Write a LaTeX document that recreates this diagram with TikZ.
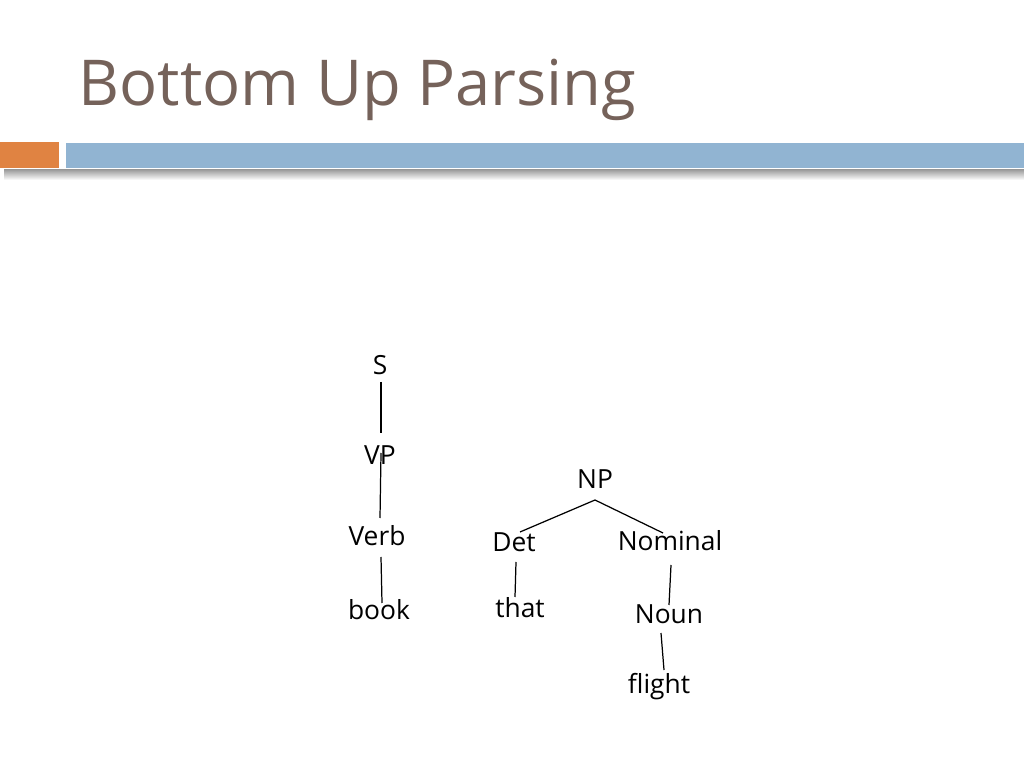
\documentclass[tikz,border=0pt]{standalone}
\usepackage{fontspec}
\setmainfont{Open Sans}
\usetikzlibrary{calc}
\definecolor{titlebrown}{RGB}{117,98,90}
\definecolor{barorange}{RGB}{224,131,66}
\definecolor{barblue}{RGB}{145,180,210}
\tikzset{
  word/.style={anchor=base,inner sep=0pt,font=\fontsize{7.5pt}{9pt}\selectfont},
  branch/.style={line width=0.35pt,black}
}
\begin{document}
\begin{tikzpicture}[x=0.1mm,y=-0.1mm]
            \useasboundingbox (0,0) rectangle (1024,768);
            % title and bars
            \node[anchor=base west,inner sep=0pt,text=titlebrown,font=\fontsize{18pt}{21pt}\selectfont] (title) at (78,106) {Bottom Up Parsing};
            \shade[top color=gray!75,bottom color=white] (4,170) rectangle (1024,180);
            \fill[barorange] (0,142) rectangle (59,168);
            \fill[barblue] (66,143) rectangle (1024,168);
            % left tree
            \node[word] (S) at (380,375) {S};
            \node[word] (VP) at (380,465) {VP};
            \node[word] (Verb) at (377,546) {Verb};
            \node[word] (book) at (379,619) {book};
            % right tree
            \node[word] (NP) at (595,489) {NP};
            \node[word] (Det) at (514,552) {Det};
            \node[word] (Nominal) at (670,551) {Nominal};
            \node[word] (that) at (520,618) {that};
            \node[word] (Noun) at (669,623) {Noun};
            \node[word] (flight) at (659,693) {flight};
            % branches
            \draw[branch] ($(S.base)+(1,7)$) -- ($(VP.base)+(1,-32)$);
            \draw[branch] ($(VP.base)+(1,-12)$) -- ($(Verb.base)+(3,-28)$);
            \draw[branch] ($(Verb.base)+(4,11)$) -- ($(book.base)+(3,-16)$);
            \draw[branch] ($(Det.base)+(6,-20)$) -- ($(NP.base)+(0,11)$) -- ($(Nominal.base)+(-7,-18)$);
            \draw[branch] ($(Det.base)+(2,10)$) -- ($(that.base)+(-5,-21)$);
            \draw[branch] ($(Nominal.base)+(1,14)$) -- ($(Noun.base)+(0,-18)$);
            \draw[branch] ($(Noun.base)+(-8,10)$) -- ($(flight.base)+(5,-23)$);
\end{tikzpicture}
\end{document}
